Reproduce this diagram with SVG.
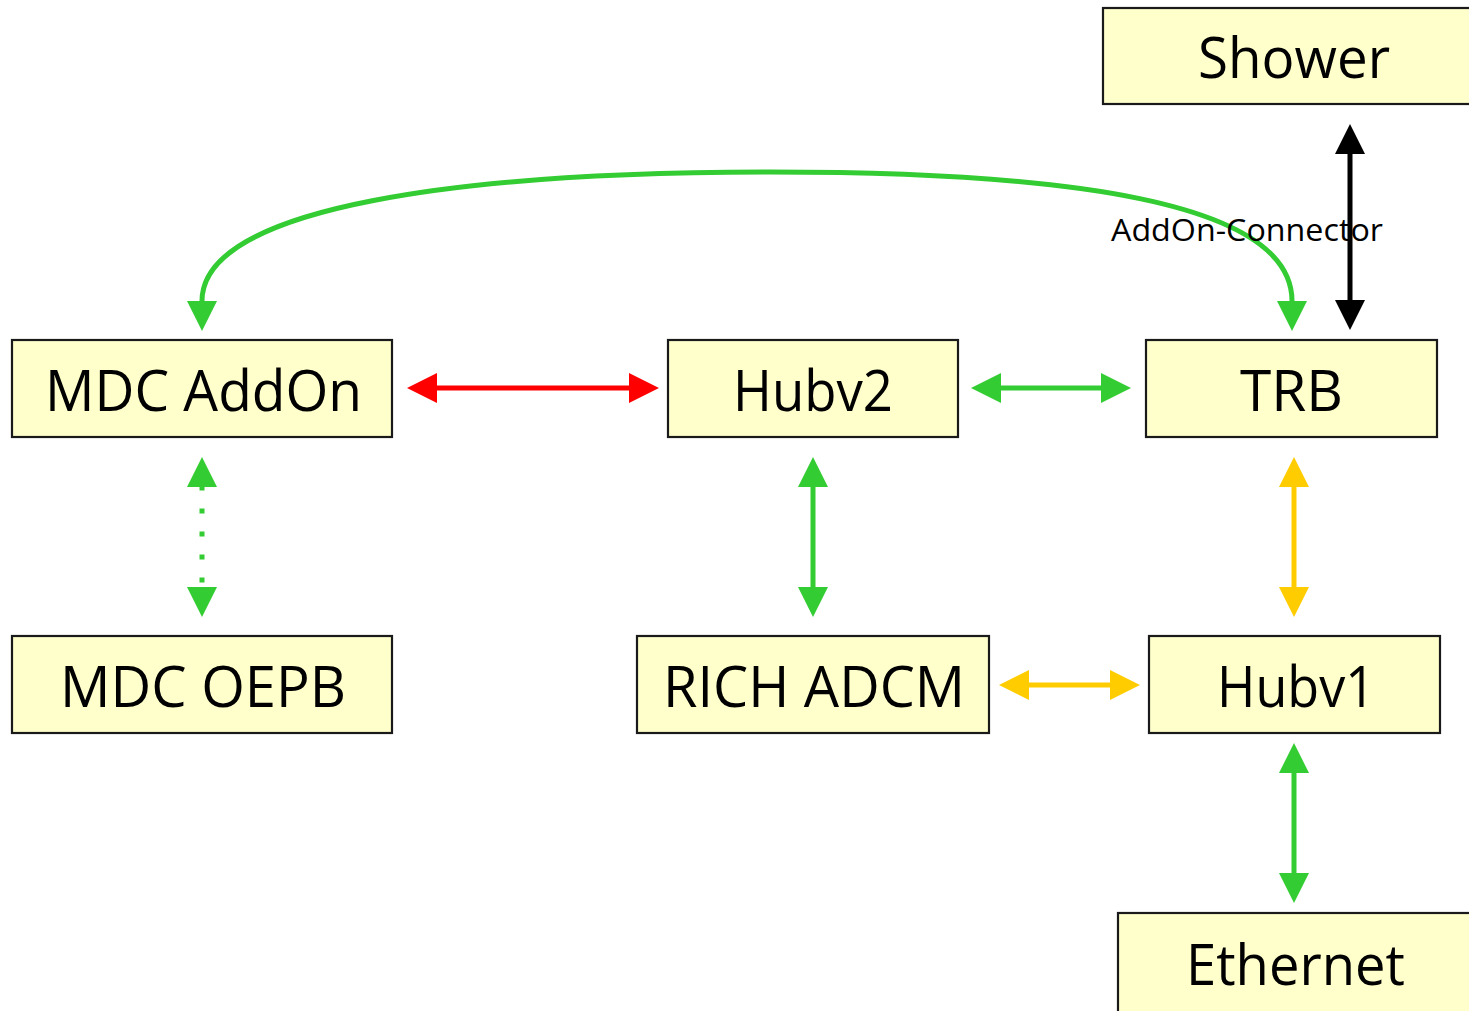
<svg xmlns="http://www.w3.org/2000/svg" width="1469" height="1011" viewBox="0 0 1469 1011">
  <style>
    .box { fill: #FFFFCC; stroke: #1a1a1a; stroke-width: 2.2; }
    .lbl { font-family: "Open Sans", "Liberation Sans", sans-serif; font-size: 56px; fill: #000; text-anchor: start; }
    .small { font-family: "Open Sans", "Liberation Sans", sans-serif; font-size: 31px; fill: #000; }
    .c { fill: none; stroke-width: 5; }
    .green { stroke: #33CC33; }
    .red { stroke: #FF0000; }
    .yellow { stroke: #FFCC00; }
    .black { stroke: #000; }
  </style>
  <defs>
    <marker id="hg" markerUnits="userSpaceOnUse" markerWidth="32" markerHeight="32" viewBox="0 -16 32 32" refX="0" refY="0" orient="auto-start-reverse">
      <path d="M0,-15 L30,0 L0,15 z" fill="#33CC33"/>
    </marker>
    <marker id="hr" markerUnits="userSpaceOnUse" markerWidth="32" markerHeight="32" viewBox="0 -16 32 32" refX="0" refY="0" orient="auto-start-reverse">
      <path d="M0,-15 L30,0 L0,15 z" fill="#FF0000"/>
    </marker>
    <marker id="hy" markerUnits="userSpaceOnUse" markerWidth="32" markerHeight="32" viewBox="0 -16 32 32" refX="0" refY="0" orient="auto-start-reverse">
      <path d="M0,-15 L30,0 L0,15 z" fill="#FFCC00"/>
    </marker>
    <marker id="hk" markerUnits="userSpaceOnUse" markerWidth="32" markerHeight="32" viewBox="0 -16 32 32" refX="0" refY="0" orient="auto-start-reverse">
      <path d="M0,-15 L30,0 L0,15 z" fill="#000"/>
    </marker>
  </defs>
  <rect width="1469" height="1011" fill="#fff"/>

  <g id="connectors">
    <!-- long arc from TRB back to MDC AddOn -->
    <path class="c green" d="M202,301 C202,205 470,172 770,172 C1060,172 1292,200 1292,301" marker-start="url(#hg)" marker-end="url(#hg)"/>
    <line class="c black" x1="1350" y1="154" x2="1350" y2="300" marker-start="url(#hk)" marker-end="url(#hk)"/>
    <line class="c red" x1="437" y1="388" x2="629" y2="388" marker-start="url(#hr)" marker-end="url(#hr)"/>
    <line class="c green" x1="1001" y1="388" x2="1101" y2="388" marker-start="url(#hg)" marker-end="url(#hg)"/>
    <!-- dotted link MDC AddOn / MDC OEPB -->
    <line class="c green" x1="202" y1="487" x2="202" y2="587" stroke-dasharray="5 18" stroke-dashoffset="1.5" marker-start="url(#hg)" marker-end="url(#hg)"/>
    <line class="c green" x1="813" y1="487" x2="813" y2="587" marker-start="url(#hg)" marker-end="url(#hg)"/>
    <line class="c yellow" x1="1294" y1="487" x2="1294" y2="587" marker-start="url(#hy)" marker-end="url(#hy)"/>
    <line class="c yellow" x1="1029" y1="685" x2="1110" y2="685" marker-start="url(#hy)" marker-end="url(#hy)"/>
    <line class="c green" x1="1294" y1="773" x2="1294" y2="873" marker-start="url(#hg)" marker-end="url(#hg)"/>
    <text class="small" x="1111" y="241" textLength="272" lengthAdjust="spacingAndGlyphs">AddOn-Connector</text>
  </g>

  <g id="shower">
    <rect class="box" x="1103" y="8" width="370" height="96"/>
    <text class="lbl" x="1198" y="78" textLength="192" lengthAdjust="spacingAndGlyphs">Shower</text>
  </g>
  <g id="mdc-addon">
    <rect class="box" x="12" y="340" width="380" height="97"/>
    <text class="lbl" x="45" y="411" textLength="317" lengthAdjust="spacingAndGlyphs">MDC AddOn</text>
  </g>
  <g id="hubv2">
    <rect class="box" x="668" y="340" width="290" height="97"/>
    <text class="lbl" x="733" y="411" textLength="160" lengthAdjust="spacingAndGlyphs">Hubv2</text>
  </g>
  <g id="trb">
    <rect class="box" x="1146" y="340" width="291" height="97"/>
    <text class="lbl" x="1240" y="411" textLength="103" lengthAdjust="spacingAndGlyphs">TRB</text>
  </g>
  <g id="mdc-oepb">
    <rect class="box" x="12" y="636" width="380" height="97"/>
    <text class="lbl" x="60" y="707" textLength="286" lengthAdjust="spacingAndGlyphs">MDC OEPB</text>
  </g>
  <g id="rich-adcm">
    <rect class="box" x="637" y="636" width="352" height="97"/>
    <text class="lbl" x="663" y="707" textLength="302" lengthAdjust="spacingAndGlyphs">RICH ADCM</text>
  </g>
  <g id="hubv1">
    <rect class="box" x="1149" y="636" width="291" height="97"/>
    <text class="lbl" x="1217" y="707" textLength="158" lengthAdjust="spacingAndGlyphs">Hubv1</text>
  </g>
  <g id="ethernet">
    <rect class="box" x="1118" y="913" width="355" height="100"/>
    <text class="lbl" x="1186" y="985" textLength="219" lengthAdjust="spacingAndGlyphs">Ethernet</text>
  </g>
</svg>
